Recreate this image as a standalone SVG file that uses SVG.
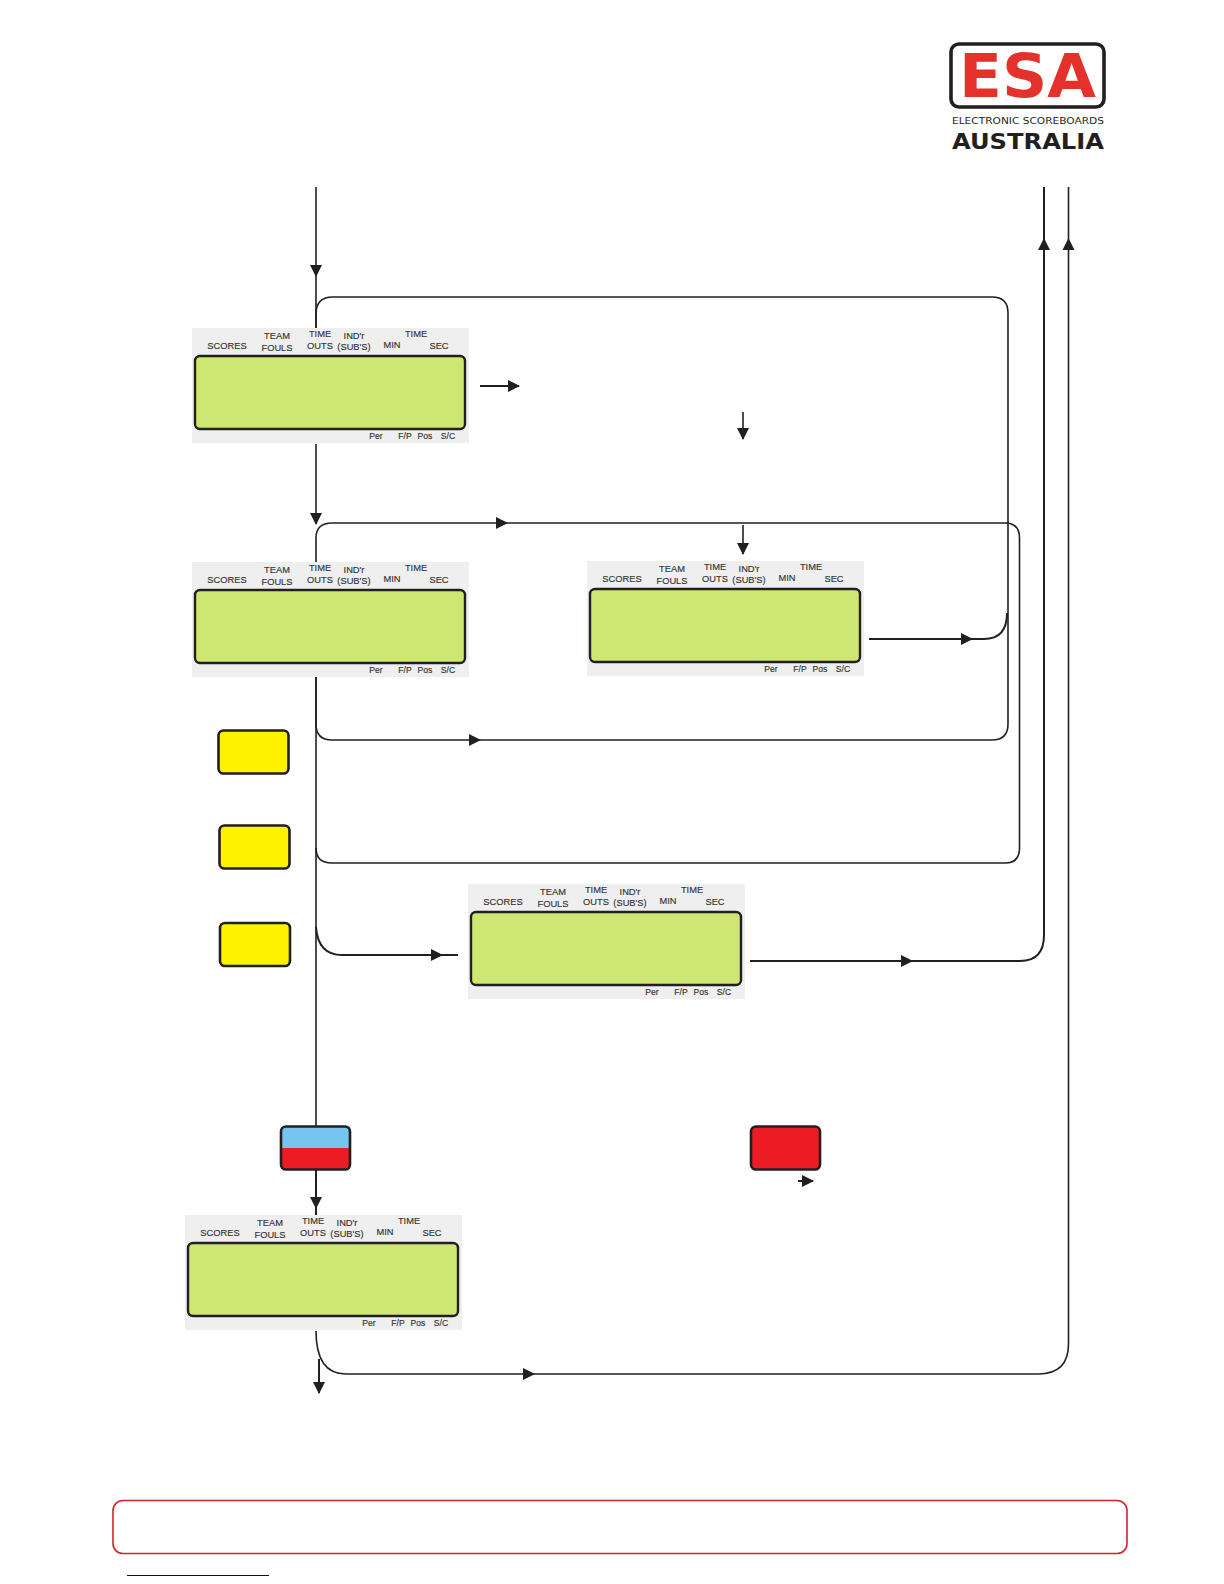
<svg xmlns="http://www.w3.org/2000/svg" width="1224" height="1584" viewBox="0 0 1224 1584">
<style>
.c{fill:none;stroke:#231f20;stroke-width:1.6}
.t{stroke-width:2}
.h{fill:#231f20;stroke:none}
.g{fill:#efefef}
.l{fill:#cde772;stroke:#231f20;stroke-width:2.4}
.b{stroke:#231f20;stroke-width:2.6}
.p text{font-family:"Liberation Sans",Arial,sans-serif;font-size:9.3px;fill:#333;text-anchor:middle;stroke:#333;stroke-width:.15}
.p text.s{font-size:8.6px}
.logo{font-family:"DejaVu Sans","Liberation Sans",sans-serif;font-weight:700}
</style>
<defs>
<marker id="m" viewBox="0 0 12 12" refX="11" refY="6" markerWidth="12" markerHeight="12" markerUnits="userSpaceOnUse" orient="auto"><path class="h" d="M0 0L12 6L0 12Z"/></marker>
</defs>
<g id="logo">
<rect x="951" y="44" width="153" height="63" rx="8" fill="#fff" stroke="#231f20" stroke-width="3.6"/>
<text class="logo" x="959" y="97" font-size="60" fill="#e4312b" textLength="137" lengthAdjust="spacingAndGlyphs">ESA</text>
<text class="logo" x="952" y="124" font-size="9" fill="#231f20" font-weight="400" textLength="152" lengthAdjust="spacingAndGlyphs" style="font-weight:400">ELECTRONIC SCOREBOARDS</text>
<text class="logo" x="952" y="149" font-size="22" fill="#231f20" textLength="152" lengthAdjust="spacingAndGlyphs">AUSTRALIA</text>
</g>
<g id="panel1" class="p">
<rect class="g" x="192" y="328" width="277" height="115"/><rect class="l" x="195" y="356" width="270" height="73" rx="5"/>
<text x="227" y="349">SCORES</text><text x="277" y="339">TEAM</text><text x="277" y="351">FOULS</text><text x="320" y="337">TIME</text><text x="320" y="349">OUTS</text><text x="354" y="338.500">IND'r</text><text x="354" y="350">(SUB'S)</text><text x="392" y="348">MIN</text><text x="416" y="337">TIME</text><text x="439" y="349">SEC</text><text class="s" x="376" y="439">Per</text><text class="s" x="405" y="439">F/P</text><text class="s" x="425" y="439">Pos</text><text class="s" x="448" y="439">S/C</text>
</g>
<g id="panel2" class="p" transform="translate(0,234)">
<rect class="g" x="192" y="328" width="277" height="115"/><rect class="l" x="195" y="356" width="270" height="73" rx="5"/>
<text x="227" y="349">SCORES</text><text x="277" y="339">TEAM</text><text x="277" y="351">FOULS</text><text x="320" y="337">TIME</text><text x="320" y="349">OUTS</text><text x="354" y="338.500">IND'r</text><text x="354" y="350">(SUB'S)</text><text x="392" y="348">MIN</text><text x="416" y="337">TIME</text><text x="439" y="349">SEC</text><text class="s" x="376" y="439">Per</text><text class="s" x="405" y="439">F/P</text><text class="s" x="425" y="439">Pos</text><text class="s" x="448" y="439">S/C</text>
</g>
<g id="panel3" class="p" transform="translate(395,233)">
<rect class="g" x="192" y="328" width="277" height="115"/><rect class="l" x="195" y="356" width="270" height="73" rx="5"/>
<text x="227" y="349">SCORES</text><text x="277" y="339">TEAM</text><text x="277" y="351">FOULS</text><text x="320" y="337">TIME</text><text x="320" y="349">OUTS</text><text x="354" y="338.500">IND'r</text><text x="354" y="350">(SUB'S)</text><text x="392" y="348">MIN</text><text x="416" y="337">TIME</text><text x="439" y="349">SEC</text><text class="s" x="376" y="439">Per</text><text class="s" x="405" y="439">F/P</text><text class="s" x="425" y="439">Pos</text><text class="s" x="448" y="439">S/C</text>
</g>
<g id="panel4" class="p" transform="translate(276,556)">
<rect class="g" x="192" y="328" width="277" height="115"/><rect class="l" x="195" y="356" width="270" height="73" rx="5"/>
<text x="227" y="349">SCORES</text><text x="277" y="339">TEAM</text><text x="277" y="351">FOULS</text><text x="320" y="337">TIME</text><text x="320" y="349">OUTS</text><text x="354" y="338.500">IND'r</text><text x="354" y="350">(SUB'S)</text><text x="392" y="348">MIN</text><text x="416" y="337">TIME</text><text x="439" y="349">SEC</text><text class="s" x="376" y="439">Per</text><text class="s" x="405" y="439">F/P</text><text class="s" x="425" y="439">Pos</text><text class="s" x="448" y="439">S/C</text>
</g>
<g id="panel5" class="p" transform="translate(-7,887)">
<rect class="g" x="192" y="328" width="277" height="115"/><rect class="l" x="195" y="356" width="270" height="73" rx="5"/>
<text x="227" y="349">SCORES</text><text x="277" y="339">TEAM</text><text x="277" y="351">FOULS</text><text x="320" y="337">TIME</text><text x="320" y="349">OUTS</text><text x="354" y="338.500">IND'r</text><text x="354" y="350">(SUB'S)</text><text x="392" y="348">MIN</text><text x="416" y="337">TIME</text><text x="439" y="349">SEC</text><text class="s" x="376" y="439">Per</text><text class="s" x="405" y="439">F/P</text><text class="s" x="425" y="439">Pos</text><text class="s" x="448" y="439">S/C</text>
</g>
<g id="connectors">
<path class="c" d="M316 187V276" marker-end="url(#m)"/>
<path class="c" d="M316 276V328"/>
<path class="c" d="M316 328V314Q316 297 333 297H992Q1008 297 1008 313V724Q1008 740 992 740H332Q316 740 316 724V677"/>
<path class="c t" d="M480 386H519" marker-end="url(#m)"/>
<path class="c" d="M743 412V439" marker-end="url(#m)"/>
<path class="c" d="M316 444V524" marker-end="url(#m)"/>
<path class="c" d="M316 562V538Q316 523 332 523H1005Q1019.500 523 1019.500 538V848Q1019.500 863 1005 863H332Q316 863 316 848"/>
<path class="c" d="M743 525V554" marker-end="url(#m)"/>
<path class="h" d="M508 523L496 517V529Z"/>
<path class="h" d="M481 740L469 734V746Z"/>
<path class="c t" d="M869 639H984Q1007 639 1007 613"/>
<path class="h" d="M973 639L961 633V645Z"/>
<path class="c" d="M316 677V1126"/>
<path class="c t" d="M316 927Q318 955 342 955H458"/>
<path class="h" d="M443 955L431 949V961Z"/>
<path class="c t" d="M750 961H1020Q1044 961 1044 935V187"/>
<path class="h" d="M913 961L901 955V967Z"/>
<path class="h" d="M1044 238L1038 250H1050Z"/>
<path class="c" d="M1068.500 187V1344Q1068.500 1374 1038 1374H346Q316 1374 316 1331"/>
<path class="h" d="M1068.500 238L1062.500 250H1074.500Z"/>
<path class="h" d="M535 1374L523 1368V1380Z"/>
<path class="c t" d="M319 1359V1393" marker-end="url(#m)"/>
<path class="c t" d="M316 1170V1215"/>
<path class="h" d="M316 1209L310 1197H322Z"/>
<path class="c t" d="M798 1181H813" marker-end="url(#m)"/>
</g>
<g id="key1"><rect class="b" x="218.500" y="730.500" width="70" height="43" rx="5" fill="#fff200"/></g>
<g id="key2"><rect class="b" x="219.500" y="825.500" width="70" height="43" rx="5" fill="#fff200"/></g>
<g id="key3"><rect class="b" x="220" y="923" width="70" height="43" rx="5" fill="#fff200"/></g>
<g id="key4">
<rect x="281" y="1127" width="69" height="21" fill="#76c5ee"/><rect x="281" y="1148" width="69" height="21" fill="#ed1c24"/>
<rect class="b" fill="none" x="281" y="1126.500" width="69" height="43" rx="5"/>
</g>
<g id="key5"><rect class="b" x="751" y="1126.500" width="69" height="43" rx="5" fill="#ed1c24"/></g>
<g id="note"><rect x="113" y="1500.500" width="1014" height="53" rx="10" fill="#fff" stroke="#d2232a" stroke-width="1.6"/></g>
<path id="link" d="M127 1575.500H269" stroke="#00008b" stroke-width="1.2" fill="none"/>
</svg>
